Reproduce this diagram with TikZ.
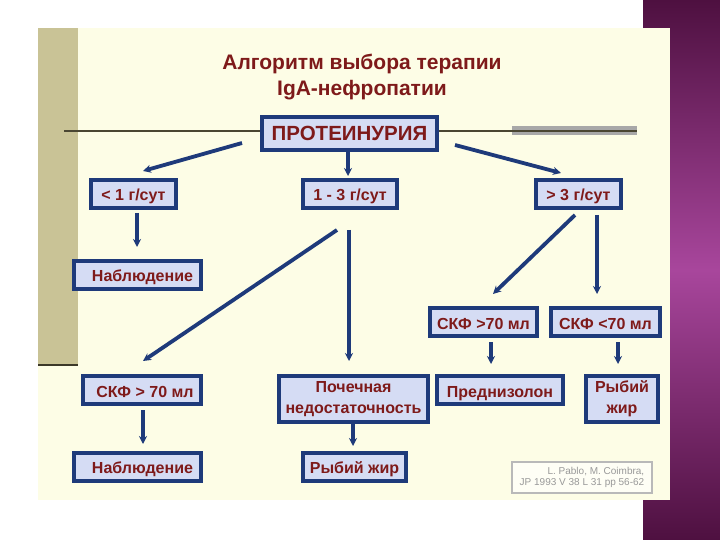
\documentclass[tikz,border=0pt]{standalone}
\usepackage{fontspec}
\setmainfont{Liberation Sans}
\usetikzlibrary{arrows.meta,calc}
\definecolor{cream}{HTML}{FDFDE6}
\definecolor{tan}{HTML}{C9C396}
\definecolor{boxblue}{HTML}{1E3A7A}
\definecolor{boxfill}{HTML}{D5DCF4}
\definecolor{txtred}{HTML}{7E1A1A}
\definecolor{purpdark}{HTML}{4E1040}
\definecolor{purpmid}{HTML}{A8469C}
\definecolor{olive}{HTML}{4A4632}
\tikzset{
  bx/.style={draw=boxblue, line width=4pt, fill=boxfill, text=txtred,
    font=\bfseries\fontsize{16}{20.5}\selectfont, inner sep=0pt, align=center},
  one/.style={text height=14pt, text depth=0pt},
  arr/.style={draw=boxblue, line width=3.8pt, -{Stealth[length=8pt,width=8pt]}},
}
\begin{document}
\begin{tikzpicture}[x=1pt,y=-1pt]
\useasboundingbox (0,0) rectangle (720,540);
\fill[white] (0,0) rectangle (720,540);
% purple strip
\shade[top color=purpdark, bottom color=purpdark, middle color=purpmid] (643,0) rectangle (720,540);
% cream slide
\fill[cream] (38,28) rectangle (670,500);
\fill[tan] (38,28) rectangle (78,365);
\draw[line width=2.6pt, color=olive!80!black] (38,365) -- (78,365);
% title
\node[text=txtred, font=\bfseries\fontsize{21}{26}\selectfont, align=center] (title) at (362,77)
  {Алгоритм выбора терапии\\IgA-нефропатии};
% boxes
\node[bx, minimum width=175, minimum height=33, font=\bfseries\fontsize{20.5}{22}\selectfont] (prot) at (349.5,133.5) {ПРОТЕИНУРИЯ};
\coordinate (lineL) at (64,131);
\coordinate (lineR) at (637,131);
\coordinate (greyL) at (512,131);
\draw[line width=9pt, color=gray!68] (greyL) -- (lineR);
\draw[line width=1.8pt, color=olive] (lineL) -- (prot.west |- lineL);
\draw[line width=1.8pt, color=olive] (prot.east |- lineR) -- (lineR);
\node[bx, one, minimum width=85, minimum height=28] (b1) at (133.5,194) {< 1 г/сут};
\node[bx, one, minimum width=94, minimum height=28] (b2) at (350,194) {1 - 3 г/сут};
\node[bx, one, minimum width=85, minimum height=28] (b3) at (578.5,194) {> 3 г/сут};
\node[bx, one, minimum width=127, minimum height=28] (nab1) at (137.5,274.5) {\hspace*{10pt}Наблюдение};
\node[bx, one, minimum width=107, minimum height=28] (skfA) at (483.5,322) {СКФ >70 мл};
\node[bx, one, minimum width=109, minimum height=28] (skfB) at (605.5,322) {СКФ <70 мл};
\node[bx, one, minimum width=118, minimum height=28] (skfC) at (142,390) {\hspace*{6pt}СКФ > 70 мл};
\node[bx, minimum width=149, minimum height=46] (poch) at (353.5,399) {\raisebox{-2pt}{\begin{tabular}{@{}c@{}}Почечная\\недостаточность\end{tabular}}};
\node[bx, one, minimum width=126, minimum height=28] (pred) at (500,390) {Преднизолон};
\node[bx, minimum width=72, minimum height=46] (ryb1) at (622,399) {\raisebox{-2pt}{\begin{tabular}{@{}c@{}}Рыбий\\жир\end{tabular}}};
\node[bx, one, minimum width=127, minimum height=28] (nab2) at (137.5,466.5) {\hspace*{10pt}Наблюдение};
\node[bx, one, minimum width=103, minimum height=28] (ryb2) at (354.5,466.5) {Рыбий жир};
% citation
\node[draw=gray!55, line width=1.2pt, fill=white!60!cream, text=gray!80,
  font=\fontsize{10}{11.5}\selectfont, align=right, minimum width=140, minimum height=31, inner sep=3pt]
  (cite) at (582,477.5) {L. Pablo, M. Coimbra,\\JP 1993 V 38 L 31 pp 56-62};
% arrow endpoints
\coordinate (a1s) at (242,143); \coordinate (a1e) at (143,171);
\coordinate (a2s) at (348,151); \coordinate (a2e) at (348,176);
\coordinate (a3s) at (455,145); \coordinate (a3e) at (561,173);
\coordinate (a4s) at (137,213); \coordinate (a4e) at (137,247);
\coordinate (a5s) at (337,230); \coordinate (a5e) at (143,361);
\coordinate (a6s) at (349,230); \coordinate (a6e) at (349,361);
\coordinate (a7s) at (575,215); \coordinate (a7e) at (493,294);
\coordinate (a8s) at (597,215); \coordinate (a8e) at (597,294);
\coordinate (a9s) at (491,342); \coordinate (a9e) at (491,364);
\coordinate (a10s) at (618,342); \coordinate (a10e) at (618,364);
\coordinate (a11s) at (143,410); \coordinate (a11e) at (143,444);
\coordinate (a12s) at (353,423); \coordinate (a12e) at (353,446);
\draw[arr] (a1s) -- (a1e);
\draw[arr] (a2s) -- (a2e);
\draw[arr] (a3s) -- (a3e);
\draw[arr] (a4s) -- (a4e);
\draw[arr] (a5s) -- (a5e);
\draw[arr] (a6s) -- (a6e);
\draw[arr] (a7s) -- (a7e);
\draw[arr] (a8s) -- (a8e);
\draw[arr] (a9s) -- (a9e);
\draw[arr] (a10s) -- (a10e);
\draw[arr] (a11s) -- (a11e);
\draw[arr] (a12s) -- (a12e);
\end{tikzpicture}
\end{document}
